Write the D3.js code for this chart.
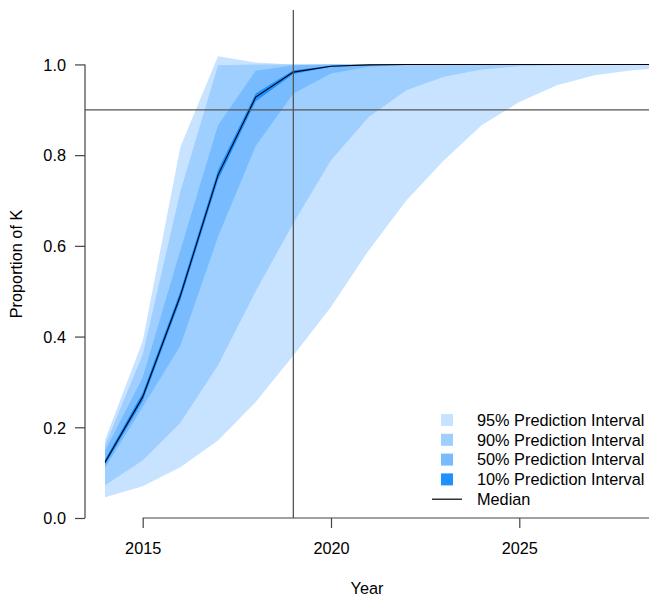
<html lang="en">
<head>
  <meta charset="UTF-8"/>
  <title>Proportion of K</title>
  <script src="https://d3js.org/d3.v7.min.js"></script>
  <style>
    body { margin: 0; background: #fff; }
    svg { display: block; }
    text { font-family: 'Liberation Sans', Arial, sans-serif; font-size: 16.3px; fill: #000; }
    .axis line, .axis path { stroke: #444; stroke-width: 1.2; }
    .ref { stroke: #555; stroke-width: 1.3; }
    .median { fill: none; stroke: #000; stroke-width: 1.1; }
  </style>
</head>
<body>
  <svg width="649" height="597"></svg>

<script>
  const years = d3.range(2014, 2031);

  const upper95 = [0.172, 0.39, 0.818, 1.018, 1.004, 1.0, 1, 1, 1, 1, 1, 1, 1, 1, 1, 1, 1];
  const upper90 = [0.160, 0.36, 0.72, 0.998, 1.0, 1.0, 1, 1, 1, 1, 1, 1, 1, 1, 1, 1, 1];
  const upper50 = [0.148, 0.31, 0.59, 0.866, 0.986, 0.998, 1.0, 1, 1, 1, 1, 1, 1, 1, 1, 1, 1];
  const upper10 = [0.129, 0.276, 0.50, 0.767, 0.936, 0.987, 0.997, 0.999, 1, 1, 1, 1, 1, 1, 1, 1, 1];
  const median  = [0.123, 0.267, 0.49, 0.756, 0.928, 0.983, 0.996, 0.999, 1, 1, 1, 1, 1, 1, 1, 1, 1];
  const lower10 = [0.117, 0.258, 0.48, 0.745, 0.919, 0.979, 0.995, 0.998, 1, 1, 1, 1, 1, 1, 1, 1, 1];
  const lower50 = [0.110, 0.245, 0.38, 0.62, 0.82, 0.936, 0.98, 0.995, 0.999, 1, 1, 1, 1, 1, 1, 1, 1];
  const lower90 = [0.072, 0.127, 0.21, 0.337, 0.50, 0.65, 0.789, 0.884, 0.943, 0.973, 0.989, 0.996, 0.998, 0.999, 1, 1, 1];
  const lower95 = [0.046, 0.070, 0.112, 0.171, 0.256, 0.358, 0.465, 0.59, 0.70, 0.789, 0.866, 0.917, 0.954, 0.976, 0.987, 0.993, 0.996];

  const xTicks = [2015, 2020, 2025];
  const yTicks = [0, 0.2, 0.4, 0.6, 0.8, 1.0];
  const refYear = 2019;
  const refLevel = 0.9;

  const bandNames = ['95% Prediction Interval', '90% Prediction Interval', '50% Prediction Interval', '10% Prediction Interval'];
  const bandColors = ['#c8e3ff', '#9ecfff', '#79bbff', '#1e90ff'];
  const bands = [[lower95, upper95], [lower90, upper90], [lower50, upper50], [lower10, upper10]];

  const svg = d3.select('svg');
  const plotLeft = 85, plotRight = 649, plotTop = 10, plotBottom = 518;

  const x = d3.scaleLinear().domain([2013.468, 2028.444]).range([plotLeft, plotRight]);
  const y = d3.scaleLinear().domain([0, 1.12]).range([plotBottom, plotTop]);

  svg.append('clipPath').attr('id', 'plot')
    .append('rect')
    .attr('x', plotLeft).attr('y', plotTop)
    .attr('width', plotRight - plotLeft).attr('height', plotBottom - plotTop);

  const g = svg.append('g').attr('clip-path', 'url(#plot)');

  bands.forEach(([lo, hi], i) => {
    const area = d3.area()
      .x((d, j) => x(years[j]))
      .y0((d, j) => y(lo[j]))
      .y1((d, j) => y(hi[j]));
    g.append('path')
      .datum(years)
      .attr('d', area)
      .attr('fill', bandColors[i]);
  });

  g.append('path')
    .datum(years)
    .attr('class', 'median')
    .attr('d', d3.line().x((d, j) => x(years[j])).y((d, j) => y(median[j])));

  // reference lines
  svg.append('line').attr('class', 'ref')
    .attr('x1', x(refYear)).attr('x2', x(refYear))
    .attr('y1', plotTop).attr('y2', plotBottom);
  svg.append('line').attr('class', 'ref')
    .attr('x1', plotLeft).attr('x2', plotRight)
    .attr('y1', y(refLevel)).attr('y2', y(refLevel));

  // y axis
  const yAxis = svg.append('g')
    .attr('class', 'axis')
    .attr('transform', `translate(${plotLeft},0)`)
    .call(d3.axisLeft(y).tickValues(yTicks).tickFormat(d3.format('.1f')).tickSize(10).tickPadding(9));
  yAxis.select('.domain').remove();
  yAxis.append('line')
    .attr('y1', y(0)).attr('y2', y(1));
  yAxis.selectAll('text').style('font-size', '16.3px').attr('fill', '#000').attr('dy', '0.35em');

  // x axis
  const xAxis = svg.append('g')
    .attr('class', 'axis')
    .attr('transform', `translate(0,${plotBottom})`)
    .call(d3.axisBottom(x).tickValues(xTicks).tickFormat(d3.format('d')).tickSize(10).tickPadding(14));
  xAxis.select('.domain').remove();
  xAxis.append('line')
    .attr('x1', x(xTicks[0])).attr('x2', plotRight);
  xAxis.selectAll('text').style('font-size', '16.3px').attr('fill', '#000');

  svg.append('text')
    .attr('x', (plotLeft + plotRight) / 2)
    .attr('y', 594)
    .attr('text-anchor', 'middle')
    .text('Year');

  svg.append('text')
    .attr('transform', `translate(22,${(plotTop + plotBottom) / 2}) rotate(-90)`)
    .attr('text-anchor', 'middle')
    .text('Proportion of K');

  // legend
  const legend = svg.append('g').attr('transform', 'translate(447,420)');
  bandNames.forEach((name, i) => {
    legend.append('rect')
      .attr('x', -6).attr('y', i * 19.8 - 6)
      .attr('width', 12).attr('height', 12)
      .attr('fill', bandColors[i]);
    legend.append('text')
      .attr('x', 30).attr('y', i * 19.8)
      .attr('dy', '0.35em')
      .text(name);
  });
  legend.append('line')
    .attr('x1', -15).attr('x2', 15)
    .attr('y1', 4 * 19.8).attr('y2', 4 * 19.8)
    .attr('stroke', '#000').attr('stroke-width', 1.2);
  legend.append('text')
    .attr('x', 30).attr('y', 4 * 19.8)
    .attr('dy', '0.35em')
    .text('Median');
</script>
</body>
</html>
